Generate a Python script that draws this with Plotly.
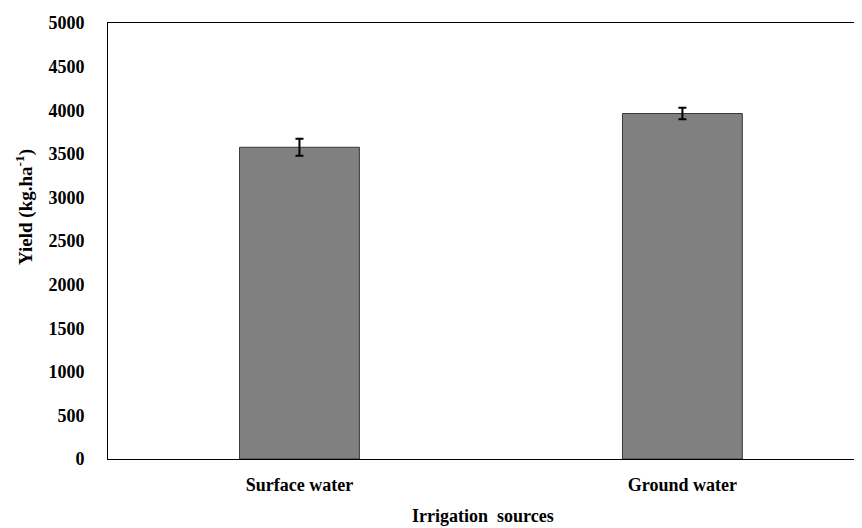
import plotly.graph_objects as go

categories = ["Surface water", "Ground water"]
yield_values = [3575, 3962]
yield_errors = [97, 66]
y_ticks = [0, 500, 1000, 1500, 2000, 2500, 3000, 3500, 4000, 4500, 5000]

font_family = "Liberation Serif, Times New Roman, serif"

fig = go.Figure()
fig.add_trace(go.Bar(
    x=categories,
    y=yield_values,
    width=0.313,
    marker=dict(color="#808080", line=dict(color="#3a3a3a", width=1)),
    error_y=dict(type="data", array=yield_errors, visible=True,
                 color="black", thickness=2, width=4),
))

fig.update_layout(
    width=854, height=520,
    margin=dict(l=100, r=0, t=15, b=69),
    paper_bgcolor="white", plot_bgcolor="white",
    showlegend=False,
    font=dict(family=font_family, size=18, color="black"),
    xaxis=dict(
        type="category",
        range=[-0.5, 1.469],
        showline=True, linecolor="black", linewidth=1, mirror=True,
        showgrid=False, ticks="", ticklabelstandoff=9,
        tickfont=dict(family=font_family, size=18, color="black", weight="bold"),
    ),
    yaxis=dict(
        range=[0, 5000],
        tickvals=y_ticks,
        showline=True, linecolor="black", linewidth=1,
        showgrid=False, ticks="", ticklabelstandoff=19, zeroline=False,
        tickfont=dict(family=font_family, size=18, color="black", weight="bold"),
    ),
    annotations=[
        dict(text="<b>Irrigation  sources</b>", xref="paper", yref="paper",
             x=0.497, y=0, xanchor="center", yanchor="middle", yshift=-57,
             showarrow=False,
             font=dict(family=font_family, size=18, color="black")),
        dict(text="<b>Yield (kg.ha<sup>-1</sup>)</b>", xref="paper", yref="paper",
             x=0, y=0.578, xanchor="center", yanchor="middle", xshift=-83,
             textangle=-90, showarrow=False,
             font=dict(family=font_family, size=19, color="black")),
    ],
)

fig.write_html("out.html")
